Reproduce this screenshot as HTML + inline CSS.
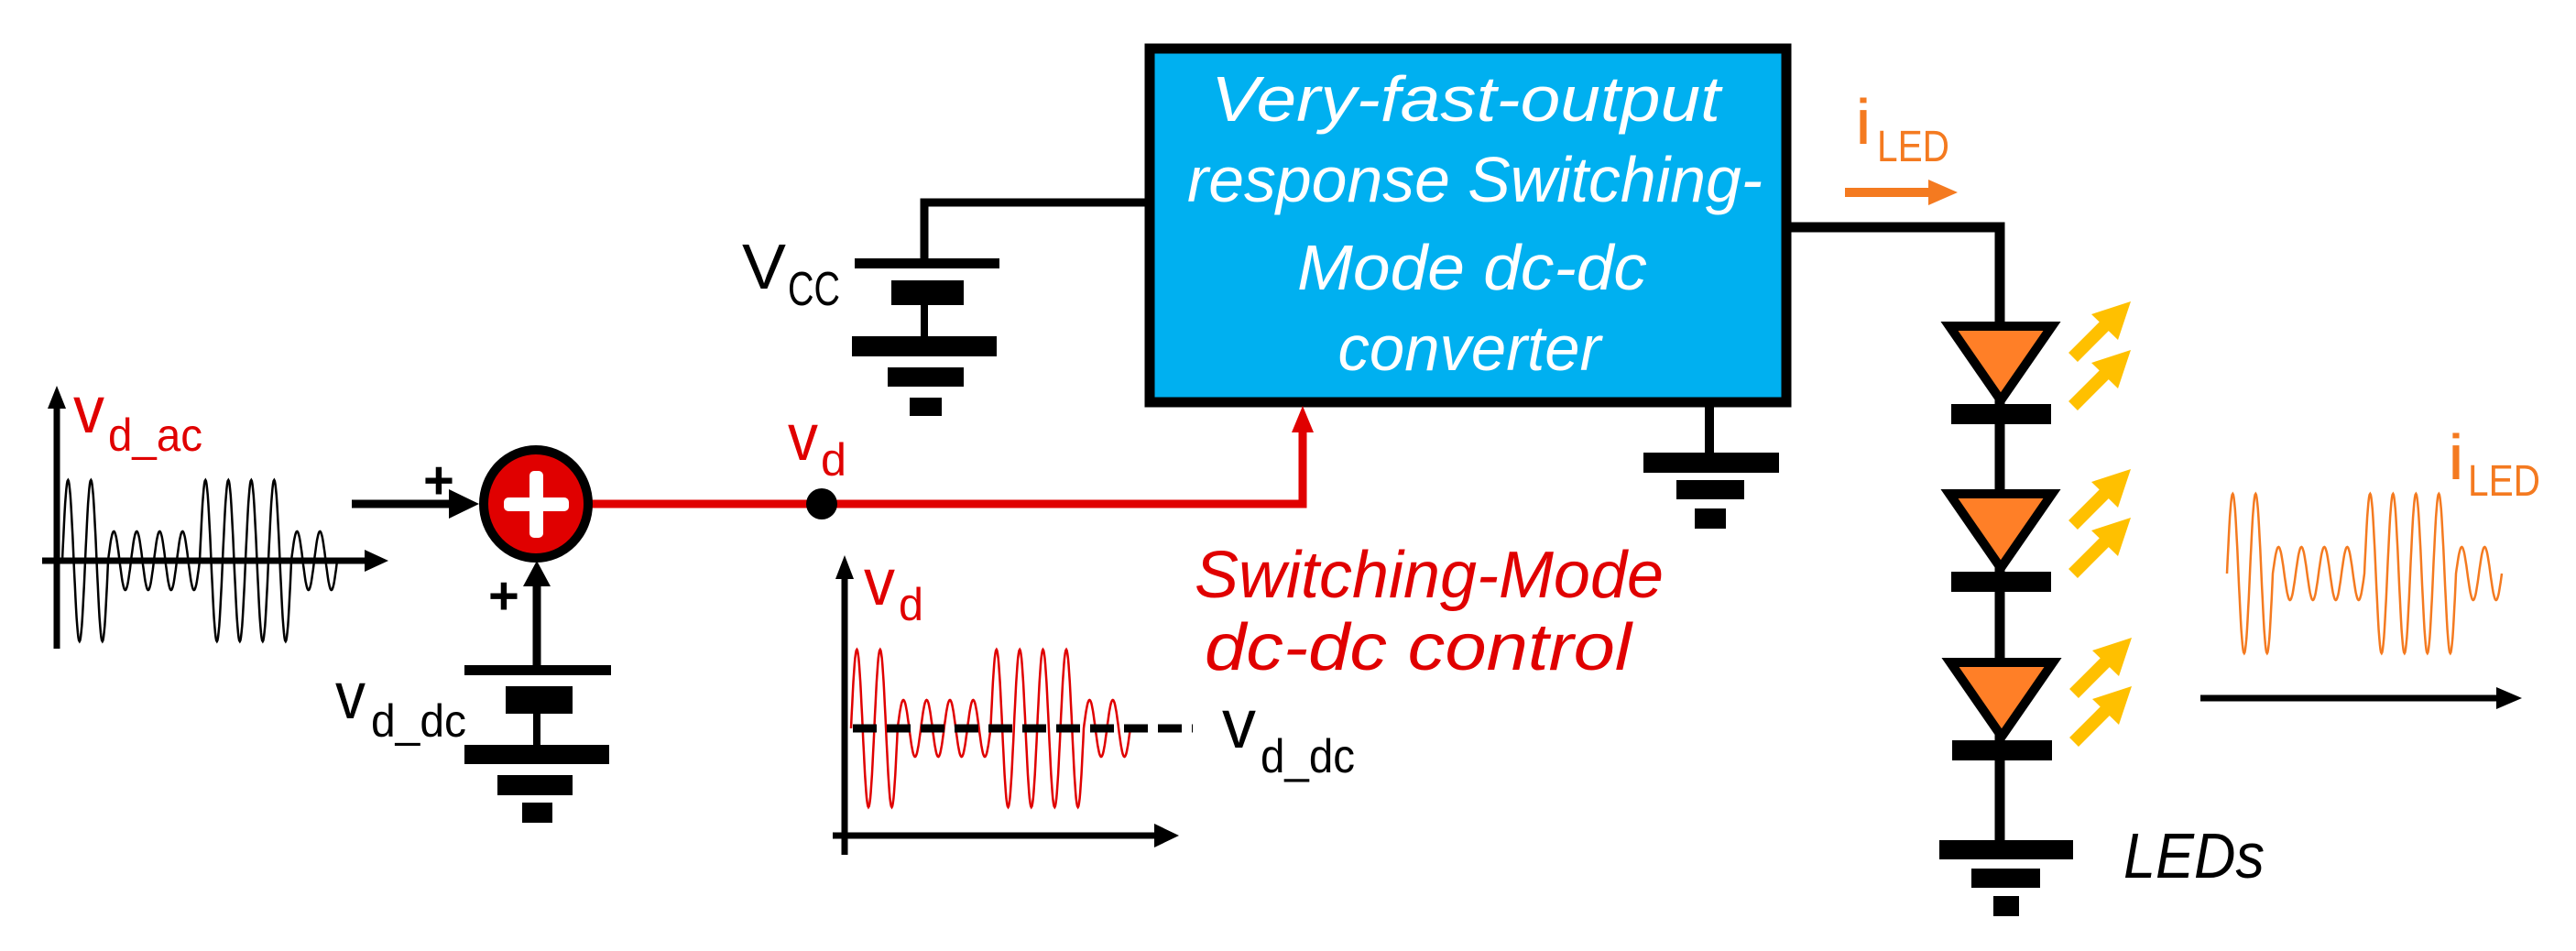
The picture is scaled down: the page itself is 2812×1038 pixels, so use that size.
<!DOCTYPE html>
<html><head><meta charset="utf-8"><style>
html,body{margin:0;padding:0;background:#fff}
svg{display:block}
text{font-family:"Liberation Sans",sans-serif}
</style></head><body>
<svg id="s" width="2812" height="1038" viewBox="0 0 2812 1038" xmlns="http://www.w3.org/2000/svg">
<!-- converter box -->
<rect x="1255" y="53" width="695" height="386" fill="#00b0f0" stroke="#000" stroke-width="11"/>
<g fill="#fff" font-style="italic" font-size="70" text-anchor="middle">
<text x="1600" y="132" textLength="556" lengthAdjust="spacingAndGlyphs">Very-fast-output</text>
<text x="1610" y="220" textLength="628" lengthAdjust="spacingAndGlyphs">response Switching-</text>
<text x="1607" y="316" textLength="382" lengthAdjust="spacingAndGlyphs">Mode  dc-dc</text>
<text x="1604" y="404" textLength="287" lengthAdjust="spacingAndGlyphs">converter</text>
</g>
<!-- Vcc -->
<polyline points="1250,221 1009,221 1009,287" fill="none" stroke="#000" stroke-width="9"/>
<rect x="933" y="282" width="158" height="11"/>
<rect x="973" y="306" width="79" height="27"/>
<rect x="1005" y="330" width="8" height="40"/>
<rect x="930" y="367" width="158" height="22"/>
<rect x="969" y="401" width="83" height="21"/>
<rect x="993" y="434" width="35" height="20"/>
<text x="810" y="315" font-size="70" textLength="48" lengthAdjust="spacingAndGlyphs">V</text>
<text x="860" y="333" font-size="52" textLength="57" lengthAdjust="spacingAndGlyphs">CC</text>
<!-- ground under box -->
<rect x="1861" y="439" width="10" height="57"/>
<rect x="1794" y="494" width="148" height="22"/>
<rect x="1830" y="524" width="74" height="21"/>
<rect x="1850" y="555" width="34" height="22"/>
<!-- red control line -->
<polyline points="640,550 1422,550 1422,470" fill="none" stroke="#e00000" stroke-width="9"/>
<path d="M1410,472 L1422,443 L1434,472z" fill="#e00000"/>
<circle cx="897" cy="550" r="17" fill="#000"/>
<text x="860" y="502" font-size="72" fill="#e00000" textLength="33" lengthAdjust="spacingAndGlyphs">v</text>
<text x="896" y="519" font-size="50" fill="#e00000" textLength="28" lengthAdjust="spacingAndGlyphs">d</text>
<!-- sum -->
<line x1="384" y1="550" x2="500" y2="550" stroke="#000" stroke-width="9"/>
<path d="M490,534 L523,550 L490,566z"/>
<text x="462" y="544" font-size="58" font-weight="bold">+</text>
<ellipse cx="585" cy="550" rx="57" ry="59" fill="#e00000" stroke="#000" stroke-width="10"/>
<rect x="550" y="543" width="71" height="15" rx="5" fill="#fff"/>
<rect x="578" y="514" width="15" height="73" rx="5" fill="#fff"/>
<line x1="586" y1="730" x2="586" y2="635" stroke="#000" stroke-width="9"/>
<path d="M571,640 L586,612 L601,640z"/>
<text x="533" y="670" font-size="58" font-weight="bold">+</text>
<!-- vd_dc battery -->
<rect x="507" y="726" width="160" height="11"/>
<rect x="552" y="749" width="73" height="30"/>
<rect x="582" y="775" width="8" height="42"/>
<rect x="507" y="813" width="158" height="21"/>
<rect x="543" y="846" width="82" height="22"/>
<rect x="570" y="876" width="33" height="22"/>
<text x="366" y="784" font-size="72" textLength="33" lengthAdjust="spacingAndGlyphs">v</text>
<text x="405" y="804" font-size="50" textLength="104" lengthAdjust="spacingAndGlyphs">d_dc</text>
<!-- vd_ac graph -->
<line x1="62" y1="708" x2="62" y2="440" stroke="#000" stroke-width="7"/>
<path d="M52,446 L62,421 L72,446z"/>
<line x1="46" y1="612" x2="404" y2="612" stroke="#000" stroke-width="7"/>
<path d="M398,600 L424,612 L398,624z"/>
<text x="80" y="472" font-size="72" fill="#e00000" textLength="34" lengthAdjust="spacingAndGlyphs">v</text>
<text x="118" y="492" font-size="50" fill="#e00000" textLength="103" lengthAdjust="spacingAndGlyphs">d_ac</text>
<path id="w1" fill="none" stroke="#000" stroke-width="2.5"/>
<!-- vd graph -->
<line x1="922" y1="933" x2="922" y2="628" stroke="#000" stroke-width="7"/>
<path d="M912,632 L922,606 L932,632z"/>
<line x1="909" y1="912" x2="1265" y2="912" stroke="#000" stroke-width="7"/>
<path d="M1260,899 L1287,912 L1260,925z"/>
<text x="943" y="660" font-size="72" fill="#e00000" textLength="34" lengthAdjust="spacingAndGlyphs">v</text>
<text x="981" y="677" font-size="50" fill="#e00000" textLength="27" lengthAdjust="spacingAndGlyphs">d</text>
<path id="w2" fill="none" stroke="#e00000" stroke-width="2.5"/>
<line x1="931" y1="795" x2="1302" y2="795" stroke="#000" stroke-width="9" stroke-dasharray="26,11"/>
<text x="1334" y="816" font-size="76" textLength="37" lengthAdjust="spacingAndGlyphs">v</text>
<text x="1376" y="843" font-size="52" textLength="103" lengthAdjust="spacingAndGlyphs">d_dc</text>
<!-- red control text -->
<g fill="#e00000" font-style="italic" font-size="72" text-anchor="middle">
<text x="1560" y="652" textLength="512" lengthAdjust="spacingAndGlyphs">Switching-Mode</text>
<text x="1548" y="731" textLength="466" lengthAdjust="spacingAndGlyphs">dc-dc control</text>
</g>
<!-- output wire & LEDs -->
<polyline points="1955,248 2183,248 2183,920" fill="none" stroke="#000" stroke-width="11"/>
<line x1="2014" y1="210" x2="2110" y2="210" stroke="#f47a20" stroke-width="10"/>
<path d="M2105,196 L2137,210 L2105,224z" fill="#f47a20"/>
<text x="2025" y="157" font-size="70" fill="#f47a20" textLength="18" lengthAdjust="spacingAndGlyphs">i</text>
<text x="2049" y="176" font-size="48" fill="#f47a20" textLength="79" lengthAdjust="spacingAndGlyphs">LED</text>
<g id="led">
<path d="M2128,356 L2240,356 L2184,437z" fill="#ff7f27" stroke="#000" stroke-width="10" stroke-linejoin="miter"/>
<rect x="2130" y="441" width="109" height="22"/>
<g stroke="#ffc000" stroke-width="14" fill="none"><line x1="2263" y1="390" x2="2305" y2="348"/><line x1="2263" y1="443" x2="2305" y2="401"/></g>
<path d="M2283,343 L2326,329 L2312,371z" fill="#ffc000"/>
<path d="M2283,396 L2326,382 L2312,424z" fill="#ffc000"/>
</g>
<use href="#led" transform="translate(0,183)"/>
<use href="#led" transform="translate(1,367)"/>
<rect x="2117" y="917" width="146" height="21"/>
<rect x="2152" y="948" width="75" height="21"/>
<rect x="2176" y="978" width="28" height="22"/>
<text x="2318" y="958" font-size="70" font-style="italic" textLength="154" lengthAdjust="spacingAndGlyphs">LEDs</text>
<!-- iLED output -->
<path id="w3" fill="none" stroke="#f47a20" stroke-width="2.5"/>
<text x="2672" y="523" font-size="70" fill="#f47a20" textLength="18" lengthAdjust="spacingAndGlyphs">i</text>
<text x="2694" y="541" font-size="48" fill="#f47a20" textLength="79" lengthAdjust="spacingAndGlyphs">LED</text>
<line x1="2402" y1="762" x2="2730" y2="762" stroke="#000" stroke-width="7"/>
<path d="M2725,750 L2753,762 L2725,774z"/>
</svg>
<script>
function wave(id,x0,P,c,L,S){
 var amps=[L,L,S,S,S,S,L,L,L,L,S,S];var d="";var n=amps.length*40;
 for(var i=0;i<=n;i++){var t=i/40;var k=Math.min(amps.length-1,Math.floor(t));
  var x=x0+t*P;var y=c-amps[k]*Math.sin(2*Math.PI*t);
  d+=(i?"L":"M")+x.toFixed(1)+","+y.toFixed(1);}
 document.getElementById(id).setAttribute("d",d);}
wave("w1",68,25,612,88,32);
wave("w2",929,25.4,795,86,31);
wave("w3",2431,25,626,87,29);
</script>
</body></html>
